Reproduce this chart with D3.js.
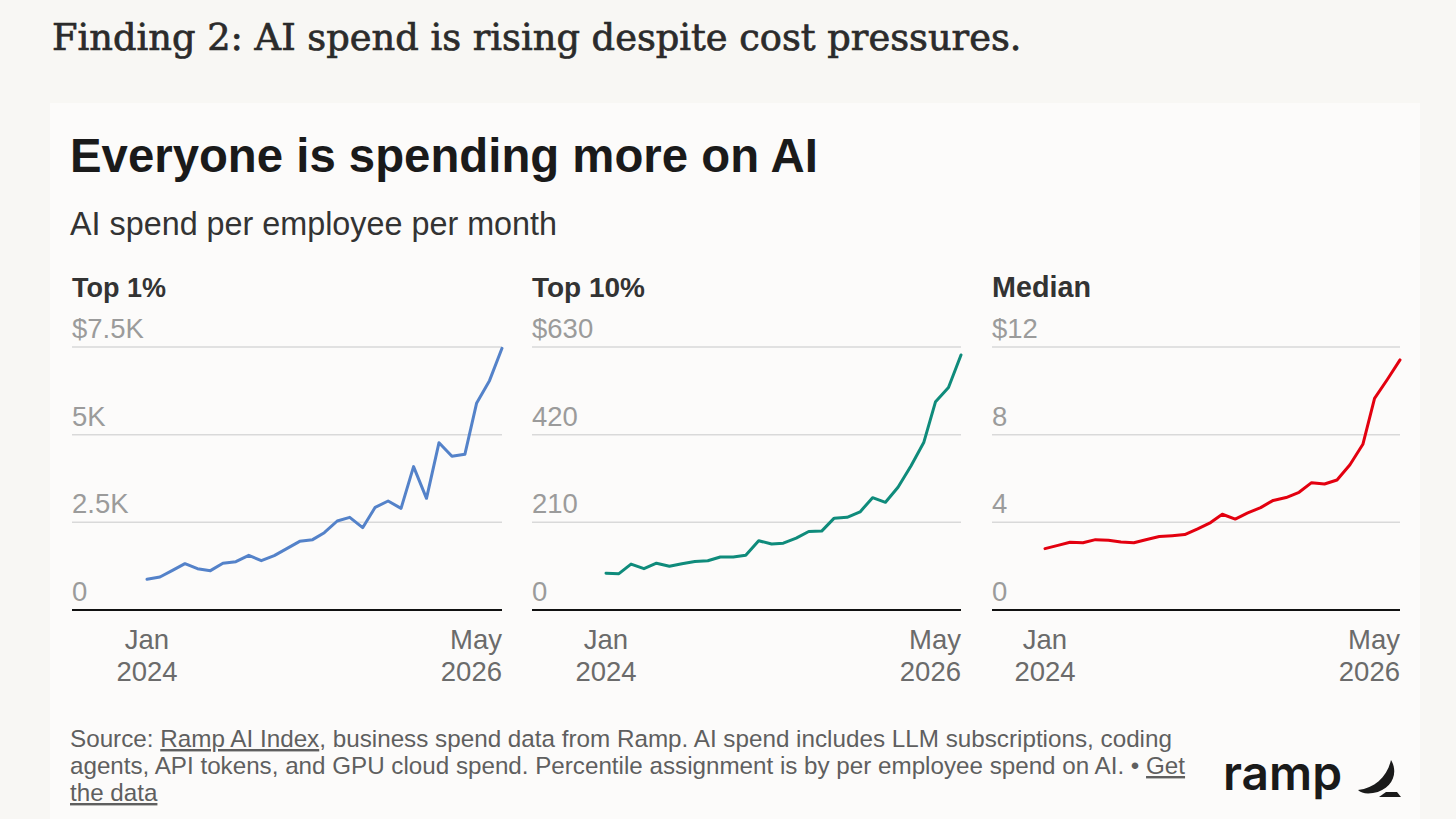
<!DOCTYPE html>
<html><head><meta charset="utf-8">
<script src="https://cdn.jsdelivr.net/npm/d3@7"></script>
<style>
html,body{margin:0;padding:0;background:#f8f7f4;}
svg{display:block;}
</style></head>
<body>
<svg id="chart" width="1456" height="819"></svg>
<script>
// ---------- DATA ----------
const months = d3.timeMonth.range(new Date(2024,0,1), new Date(2026,5,1)); // Jan 2024 .. May 2026
const panelTitles = ["Top 1%", "Top 10%", "Median"];
const top1Values = [875,941,1122,1322,1179,1122,1331,1379,1559,1407,1550,1750,1958,2006,2205,2538,2643,2348,2928,3109,2899,4088,3185,4772,4382,4439,5894,6540,7462];
const top10Values = [88,87,110,99,112,105,111,116,118,127,127,131,166,158,160,172,188,189,220,222,235,269,258,294,345,402,499,533,611];
const medianValues = [2.80,2.95,3.09,3.07,3.21,3.18,3.10,3.07,3.22,3.35,3.39,3.44,3.70,3.99,4.37,4.15,4.43,4.67,5.00,5.13,5.37,5.81,5.75,5.93,6.63,7.56,9.66,10.53,11.41];
const top1Ticks = [0,2500,5000,7500];
const top1TickLabels = ["0","2.5K","5K","$7.5K"];
const top10Ticks = [0,210,420,630];
const top10TickLabels = ["0","210","420","$630"];
const medianTicks = [0,4,8,12];
const medianTickLabels = ["0","4","8","$12"];
const xTickLabels = [["Jan","2024"],["May","2026"]];

// ---------- LAYOUT ----------
const panels = [
  {title: panelTitles[0], values: top1Values, ticks: top1Ticks, labels: top1TickLabels, color:"#5482c9", left:72, lineStart:147, right:502, titleW:94},
  {title: panelTitles[1], values: top10Values, ticks: top10Ticks, labels: top10TickLabels, color:"#0f8b7b", left:532, lineStart:606, right:961, titleW:113},
  {title: panelTitles[2], values: medianValues, ticks: medianTicks, labels: medianTickLabels, color:"#e3000f", left:992, lineStart:1045, right:1400, titleW:99}
];
const yTop = 347, yBottom = 610;
const SANS = "'Liberation Sans', Arial, Helvetica, sans-serif";

const svg = d3.select("#chart");
svg.append("rect").attr("x",0).attr("y",0).attr("width",1456).attr("height",819).attr("fill","#f8f7f4");
svg.append("rect").attr("x",50).attr("y",103).attr("width",1370).attr("height",730).attr("fill","#fcfbfa");

function fit(sel, target){
  const node = sel.node();
  const w = node.getComputedTextLength();
  const fs = parseFloat(sel.attr("font-size"));
  sel.attr("font-size", (fs*target/w).toFixed(2));
}

// Header
const h0 = svg.append("text").attr("x",52).attr("y",50)
  .attr("font-family","'DejaVu Serif', 'Liberation Serif', serif").attr("font-size",34)
  .attr("fill","#2b2b2b").attr("stroke","#2b2b2b").attr("stroke-width",0.7)
  .text("Finding 2: AI spend is rising despite cost pressures.");
fit(h0, 970);

const t1 = svg.append("text").attr("x",70).attr("y",172)
  .attr("font-family",SANS).attr("font-weight","bold").attr("font-size",44)
  .attr("fill","#1a1a1a").text("Everyone is spending more on AI");
fit(t1, 748);

const t2 = svg.append("text").attr("x",70).attr("y",235)
  .attr("font-family",SANS).attr("font-size",28)
  .attr("fill","#333").text("AI spend per employee per month");
fit(t2, 487);

// Panels
panels.forEach(p => {
  const g = svg.append("g");
  const y = d3.scaleLinear().domain([p.ticks[0], p.ticks[p.ticks.length-1]]).range([yBottom, yTop]);
  const x = d3.scaleTime().domain([months[0], months[months.length-1]]).range([p.lineStart, p.right]);

  const tt = g.append("text").attr("x",p.left).attr("y",297)
    .attr("font-family",SANS).attr("font-weight","bold").attr("font-size",26)
    .attr("fill","#333").text(p.title);
  fit(tt, p.titleW);

  // gridlines
  g.selectAll("line.grid").data(p.ticks.slice(1)).enter().append("line")
    .attr("x1",p.left).attr("x2",p.right)
    .attr("y1",d=>y(d)).attr("y2",d=>y(d))
    .attr("stroke","#d9d9d9").attr("stroke-width",1.5);

  g.selectAll("text.tick").data(p.ticks).enter().append("text")
    .attr("x",p.left).attr("y",d=>y(d)-9)
    .attr("font-family",SANS).attr("font-size",27.5).attr("fill","#9b9b9b")
    .text((d,i)=>p.labels[i]);

  // baseline axis
  g.append("line").attr("x1",p.left).attr("x2",p.right)
    .attr("y1",y(0)).attr("y2",y(0)).attr("stroke","#111").attr("stroke-width",2);

  // x labels
  const xl = [ {d: months[0], anchor:"middle", lbl: xTickLabels[0]}, {d: months[months.length-1], anchor:"end", lbl: xTickLabels[1]} ];
  xl.forEach(o => {
    const tx = g.append("text").attr("x", x(o.d)).attr("y",649)
      .attr("font-family",SANS).attr("font-size",27.5).attr("fill","#6b6b6b")
      .attr("text-anchor",o.anchor);
    tx.append("tspan").attr("x",x(o.d)).attr("dy",0).text(o.lbl[0]);
    tx.append("tspan").attr("x",x(o.d)).attr("dy",32).text(o.lbl[1]);
  });

  const line = d3.line().x((d,i)=>x(months[i])).y(d=>y(d)).curve(d3.curveLinear);
  g.append("path").datum(p.values).attr("d",line)
    .attr("fill","none").attr("stroke",p.color).attr("stroke-width",3)
    .attr("stroke-linejoin","round").attr("stroke-linecap","round");
});

// Footer
const FS = 21.5;
const fcol = "#5f5f5f";
const f1 = svg.append("text").attr("x",70).attr("y",747).attr("font-family",SANS).attr("font-size",FS).attr("fill",fcol);
f1.append("tspan").text("Source: ");
f1.append("tspan").attr("text-decoration","underline").text("Ramp AI Index");
f1.append("tspan").text(", business spend data from Ramp. AI spend includes LLM subscriptions, coding");
fit(f1, 1102);
const f2 = svg.append("text").attr("x",70).attr("y",774).attr("font-family",SANS).attr("font-size",FS).attr("fill",fcol);
f2.append("tspan").text("agents, API tokens, and GPU cloud spend. Percentile assignment is by per employee spend on AI. \u2022 ");
f2.append("tspan").attr("text-decoration","underline").text("Get");
fit(f2, 1115);
const f3 = svg.append("text").attr("x",70).attr("y",801).attr("font-family",SANS).attr("font-size",f2.attr("font-size")).attr("fill",fcol);
f3.append("tspan").attr("text-decoration","underline").text("the data");

// Logo
const logo = svg.append("text").attr("x",1223).attr("y",790)
  .attr("font-family","Inter, 'Liberation Sans', sans-serif").attr("font-weight",600).attr("font-size",44)
  .attr("fill","#1a1a1a").text("ramp");
fit(logo, 119);
svg.append("path").attr("fill","#1a1a1a")
  .attr("d","M1391,760 C1399,773 1392,790 1373,793 C1366,794 1361,793 1358,790 C1375,788 1387,777 1391,760 Z");
svg.append("path").attr("fill","#1a1a1a")
  .attr("d","M1379,797 L1401,797 L1397,792 L1386,792 Z");
</script>
</body></html>
